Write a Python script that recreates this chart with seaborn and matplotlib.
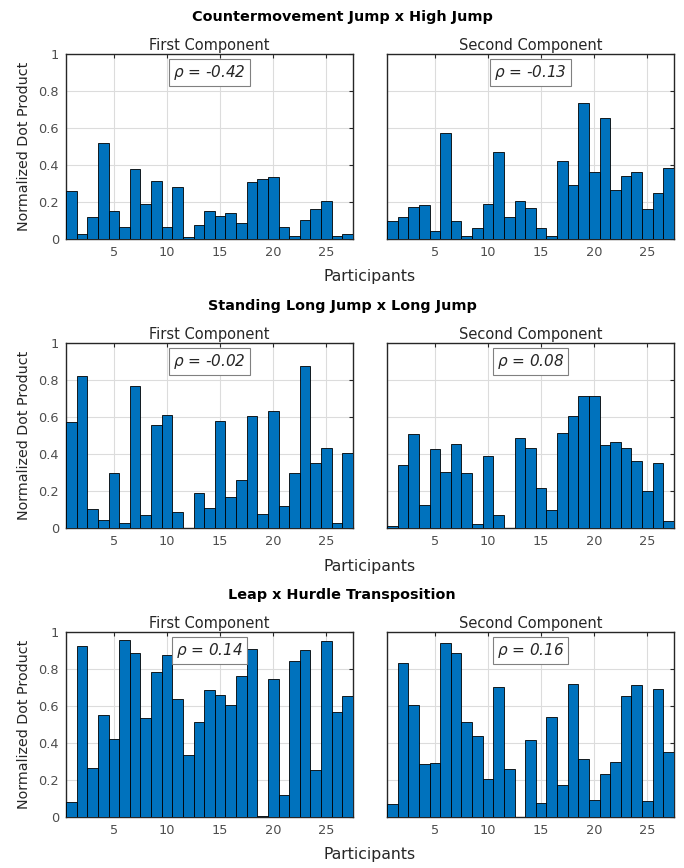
import matplotlib
matplotlib.use("Agg")
import matplotlib.pyplot as plt
import seaborn as sns
import numpy as np
import pandas as pd

participants = list(range(1, 28))

cmj_hj_first = [0.26, 0.027, 0.117, 0.52, 0.153, 0.063, 0.38, 0.187, 0.313, 0.067,
                0.28, 0.009, 0.077, 0.15, 0.124, 0.14, 0.088, 0.308, 0.322, 0.333,
                0.063, 0.014, 0.103, 0.162, 0.204, 0.018, 0.027]
cmj_hj_second = [0.097, 0.119, 0.173, 0.186, 0.043, 0.571, 0.097, 0.016, 0.058, 0.187,
                 0.468, 0.121, 0.205, 0.166, 0.059, 0.016, 0.42, 0.294, 0.737, 0.364,
                 0.656, 0.263, 0.339, 0.364, 0.164, 0.247, 0.382]
slj_lj_first = [0.574, 0.82, 0.104, 0.043, 0.295, 0.027, 0.768, 0.068, 0.557, 0.609,
                0.084, 0.0, 0.189, 0.11, 0.577, 0.167, 0.262, 0.604, 0.075, 0.633,
                0.12, 0.295, 0.874, 0.352, 0.433, 0.025, 0.403]
slj_lj_second = [0.013, 0.34, 0.51, 0.124, 0.426, 0.304, 0.455, 0.3, 0.023, 0.39,
                 0.07, 0.0, 0.489, 0.431, 0.218, 0.096, 0.512, 0.606, 0.714, 0.711,
                 0.45, 0.467, 0.435, 0.361, 0.202, 0.352, 0.04]
leap_ht_first = [0.081, 0.922, 0.267, 0.552, 0.42, 0.957, 0.886, 0.534, 0.783, 0.874,
                 0.637, 0.334, 0.514, 0.684, 0.661, 0.606, 0.762, 0.908, 0.004, 0.745,
                 0.117, 0.843, 0.903, 0.255, 0.949, 0.567, 0.652]
leap_ht_second = [0.071, 0.83, 0.607, 0.286, 0.29, 0.942, 0.884, 0.516, 0.438, 0.205,
                  0.705, 0.261, 0.002, 0.417, 0.074, 0.542, 0.172, 0.721, 0.315, 0.092,
                  0.23, 0.299, 0.654, 0.716, 0.087, 0.692, 0.35]

row_titles = ["Countermovement Jump x High Jump",
              "Standing Long Jump x Long Jump",
              "Leap x Hurdle Transposition"]
col_titles = ["First Component", "Second Component"]
rho_labels = [["-0.42", "-0.13"], ["-0.02", "0.08"], ["0.14", "0.16"]]
series = [[cmj_hj_first, cmj_hj_second],
          [slj_lj_first, slj_lj_second],
          [leap_ht_first, leap_ht_second]]
xticks = [5, 10, 15, 20, 25]
yticks = [0, 0.2, 0.4, 0.6, 0.8, 1]
ytick_labels = ["0", "0.2", "0.4", "0.6", "0.8", "1"]

sns.set_style("white")
plt.rcParams['font.family'] = ['DejaVu Sans']

W, H = 684, 868
fig = plt.figure(figsize=(W / 100, H / 100), dpi=100)

bar_color = "#0072BD"
lefts = [66, 387]
width_px = 287
tops = [54, 343, 632]
height_px = 185

for r in range(3):
    for c in range(2):
        ax = fig.add_axes([lefts[c] / W, 1 - (tops[r] + height_px) / H,
                           width_px / W, height_px / H])
        df = pd.DataFrame({"p": participants, "v": series[r][c]})
        sns.barplot(data=df, x="p", y="v", native_scale=True, width=1.0,
                    color=bar_color, saturation=1, edgecolor="black",
                    linewidth=0.6, ax=ax, zorder=3)
        ax.set_xlim(0.5, 27.5)
        ax.set_ylim(0, 1)
        ax.set_xticks(xticks)
        ax.set_xticklabels([str(t) for t in xticks])
        ax.set_yticks(yticks)
        if c == 0:
            ax.set_yticklabels(ytick_labels)
            ax.set_ylabel("Normalized Dot Product", fontsize=10.3, color="#262626",
                          labelpad=5)
        else:
            ax.set_yticklabels([])
            ax.set_ylabel("")
        ax.set_xlabel("")
        ax.grid(True, color="#dcdcdc", linewidth=0.8, zorder=0)
        ax.set_axisbelow(True)
        ax.tick_params(direction="in", length=3, width=0.8, top=True, right=True,
                       labelsize=9.3, labelcolor="#4d4d4d", colors="#262626", pad=5)
        for sp in ax.spines.values():
            sp.set_visible(True)
            sp.set_color("#262626")
            sp.set_linewidth(1.0)
        ax.set_title(col_titles[c], fontsize=10.5, color="#262626", pad=3)
        ax.text(0.5, 0.9, r"$\rho$ = " + rho_labels[r][c], transform=ax.transAxes,
                ha="center", va="center", fontsize=11, style="italic",
                color="#262626", zorder=6,
                bbox=dict(boxstyle="square,pad=0.25", facecolor="white",
                          edgecolor="#808080", linewidth=0.8))
    fig.text(0.5, 1 - (tops[r] - 37) / H, row_titles[r], ha="center", va="center",
             fontsize=10.4, fontweight="bold", color="black")
    fig.text((66 + 673) / 2 / W, 1 - (tops[r] + height_px + 38) / H, "Participants",
             ha="center", va="center", fontsize=11.3, color="#262626")

fig.savefig("out.png", dpi=100)
